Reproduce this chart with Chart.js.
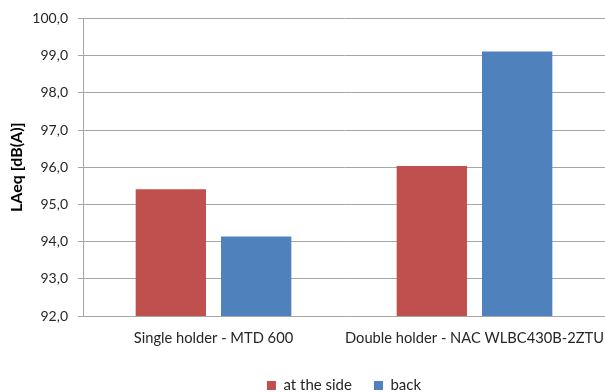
<!DOCTYPE html>
<html>
<head>
<meta charset="utf-8">
<script src="https://cdn.jsdelivr.net/npm/chart.js@4"></script>
<style>
  html, body { margin: 0; padding: 0; background: #fff; }
  #wrap { width: 605px; height: 392px; }
</style>
</head>
<body>
<div id="wrap"><canvas id="c" width="605" height="392"></canvas></div>
<script>
// Sound level per holder type and microphone position
const categories = ['Single holder - MTD 600', 'Double holder - NAC WLBC430B-2ZTU'];
const seriesNames = ['at the side', 'back'];
const atTheSide = [95.41, 96.03];
const back = [94.14, 99.11];
const yTicks = [92, 93, 94, 95, 96, 97, 98, 99, 100];

const FONT = 'Lato, "Open Sans", sans-serif';
const GRID = '#a6a6a6';
const TEXT = '#262626';

new Chart(document.getElementById('c'), {
  type: 'bar',
  data: {
    labels: categories,
    datasets: [
      { label: seriesNames[0], data: atTheSide, backgroundColor: '#c0504d', borderWidth: 0 },
      { label: seriesNames[1], data: back, backgroundColor: '#4f81bd', borderWidth: 0 }
    ]
  },
  options: {
    responsive: false,
    animation: false,
    devicePixelRatio: 1,
    layout: { padding: { top: 9, right: 0, left: 0, bottom: 0 } },
    datasets: { bar: { categoryPercentage: 0.654, barPercentage: 0.824 } },
    plugins: {
      tooltip: { enabled: false },
      legend: {
        position: 'bottom',
        fullSize: false,
        maxHeight: 36,
        labels: {
          boxWidth: 9,
          boxHeight: 9,
          padding: 22,
          color: TEXT,
          font: { family: FONT, size: 15 }
        }
      }
    },
    scales: {
      x: {
        afterFit: (axis) => {
          axis.height = 40;
          // let the long category label run to the edge without shrinking the plot
          axis.paddingLeft = 0;
          axis.paddingRight = 0;
        },
        grid: { display: false },
        border: { display: true, color: GRID, width: 1 },
        ticks: {
          color: TEXT,
          padding: 5,
          autoSkip: false,
          maxRotation: 0,
          minRotation: 0,
          font: { family: FONT, size: 14.7 }
        }
      },
      y: {
        min: 92,
        max: 100,
        afterBuildTicks: (axis) => { axis.ticks = yTicks.map(v => ({ value: v })); },
        afterFit: (axis) => { axis.width = 83; },
        grid: { color: GRID, lineWidth: 1, tickLength: 5, drawTicks: true },
        border: { display: true, color: GRID, width: 1 },
        ticks: {
          padding: 10,
          color: TEXT,
          font: { family: FONT, size: 14 },
          callback: (v) => Number(v).toFixed(1).replace('.', ',')
        },
        title: {
          display: true,
          text: 'LAeq [dB(A)]',
          color: '#000',
          padding: { top: 7, bottom: 4 },
          font: { family: FONT, size: 16, weight: 'bold' }
        }
      }
    }
  }
});
</script>
</body>
</html>
